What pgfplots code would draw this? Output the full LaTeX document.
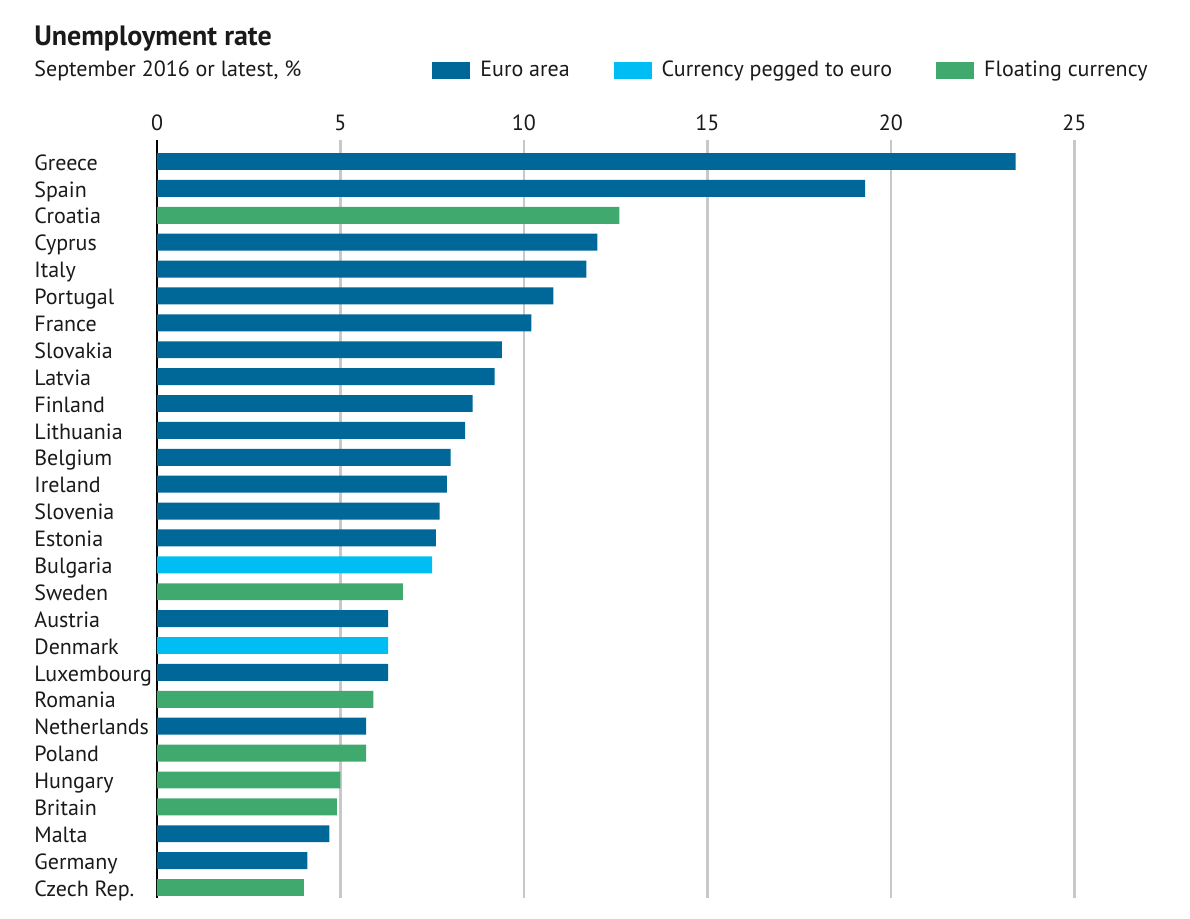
\documentclass[border=0pt]{standalone}
\usepackage{pgfplots}
\pgfplotsset{compat=1.18}
\usepackage{fontspec}
\setmainfont{PT Sans}
\definecolor{euro}{RGB}{0,104,153}
\definecolor{pegged}{RGB}{0,190,243}
\definecolor{floating}{RGB}{64,170,110}
\definecolor{gridgray}{RGB}{200,200,200}
\definecolor{txt}{RGB}{26,26,26}
\begin{document}
\begin{tikzpicture}
\useasboundingbox (-78.5pt,-10pt) rectangle (516.5pt,449pt);
\begin{axis}[
  at={(0pt,0pt)}, anchor=south west,
  scale only axis, width=477pt, height=379pt,
  xmin=0, xmax=26, ymin=-0.8, ymax=27.39, y dir=reverse,
  xbar, bar width=0.63, bar shift=0pt,
  axis line style={-},
  axis x line*=top, axis y line*=left,
  x axis line style={draw=none},
  y axis line style={draw=black, line width=0.75pt},
  xtick={0,5,10,15,20,25},
  ytick={0,...,27},
  yticklabels={Greece,Spain,Croatia,Cyprus,Italy,Portugal,France,Slovakia,Latvia,Finland,Lithuania,Belgium,Ireland,Slovenia,Estonia,Bulgaria,Sweden,Austria,Denmark,Luxembourg,Romania,Netherlands,Poland,Hungary,Britain,Malta,Germany,Czech Rep.},
  major tick length=0pt,
  tick style={draw=none},
  xmajorgrids, ymajorgrids=false,
  major grid style={draw=gridgray, line width=1.25pt},
  /pgf/number format/assume math mode=true,
  tick label style={font=\fontsize{11}{13}\selectfont, text=txt},
  xticklabel style={inner sep=0pt, anchor=south, yshift=4.5pt},
  yticklabel style={inner sep=0pt, anchor=base west, xshift=-61.5pt, yshift=-4.3pt},
  legend columns=3,
  legend style={at={(0.2883,1.092)}, anchor=west, draw=none, fill=none, inner sep=0pt,
    nodes={inner sep=0pt, anchor=west, text=txt},
    font=\fontsize{11}{13}\selectfont,
    /tikz/every odd column/.append style={column sep=5pt},
    /tikz/every even column/.append style={column sep=22pt}},
  legend image code/.code={\fill[#1,draw=none] (0pt,-4.25pt) rectangle (19pt,4.25pt);},
  clip=false,
]
\addplot[fill=euro, draw=none] coordinates {
(23.4,0) (19.3,1) (12.0,3) (11.7,4) (10.8,5) (10.2,6) (9.4,7) (9.2,8) (8.6,9) (8.4,10) (8.0,11) (7.9,12) (7.7,13) (7.6,14) (6.3,17) (6.3,19) (5.7,21) (4.7,25) (4.1,26)
};
\addlegendentry{Euro area}
\addplot[fill=pegged, draw=none] coordinates {
(7.5,15) (6.3,18)
};
\addlegendentry{Currency pegged to euro}
\addplot[fill=floating, draw=none] coordinates {
(12.6,2) (6.7,16) (5.9,20) (5.7,22) (5.0,23) (4.9,24) (4.0,27)
};
\addlegendentry{Floating currency}
\end{axis}
\node[anchor=base west, inner sep=0pt, text=txt, font=\fontsize{14}{16}\selectfont\bfseries] at (-61.5pt,426pt) {Unemployment rate};
\node[anchor=base west, inner sep=0pt, text=txt, font=\fontsize{11}{13}\selectfont] at (-61.5pt,410.7pt) {September 2016 or latest, \%};
\end{tikzpicture}
\end{document}
